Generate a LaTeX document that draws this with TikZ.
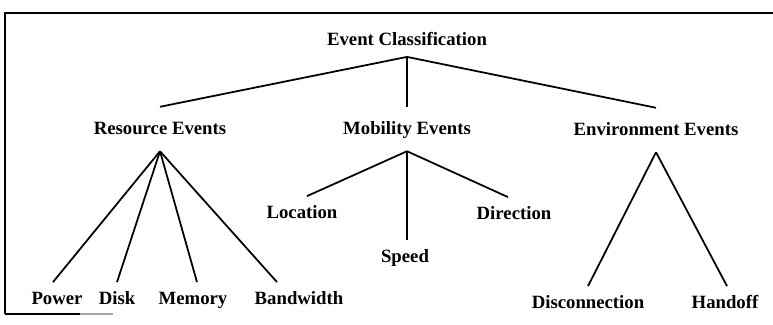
\documentclass[tikz,border=0pt]{standalone}
\usepackage{fontspec}
\setmainfont{Liberation Serif}
\usepackage{tikz}
\tikzstyle{leaf} = [font=\fontsize{16}{19}\selectfont\bfseries, inner sep=0pt,
    text height=1em, text depth=0em, minimum height=1.0cm]
\tikzstyle{group} = [leaf, minimum height=1.32cm]
\tikzstyle{branch} = [draw, line width=1.5pt]
\tikzstyle{frame} = [draw, line width=1.5pt]

\begin{document}
\begin{tikzpicture}[auto, node distance=2cm]
\useasboundingbox (0,0) rectangle (23.19,-9.72);
% Frame
	\draw [frame] (0.15,-9.42) -- (0.15,-0.39) -- (23.19,-0.39);
	\draw [frame] (0.15,-9.42) -- (2.4,-9.42);
	\draw [frame, black!35] (2.4,-9.42) -- (3.4,-9.42);
% Root
	\node [leaf] (EC) at (12.21,-1.20) {Event Classification};
% Second level
	\node [group, below of=EC, node distance=2.67cm, xshift=-7.41cm] (RE) {Resource Events};
	\node [group, below of=EC, node distance=2.67cm] (ME) {Mobility Events};
	\node [group, below of=EC, node distance=2.70cm, xshift=7.47cm] (EE) {Environment Events};
	\draw [branch] (EC.south) -- (RE.north);
	\draw [branch] (EC.south) -- (ME.north);
	\draw [branch] (EC.south) -- (EE.north);
% Resource events
	\node [leaf, below of=RE, node distance=5.10cm, xshift=-3.09cm] (PW) {Power};
	\node [leaf, below of=RE, node distance=5.10cm, xshift=-1.29cm] (DK) {Disk};
	\node [leaf, below of=RE, node distance=5.10cm, xshift=0.99cm] (MM) {Memory};
	\node [leaf, below of=RE, node distance=5.10cm, xshift=4.17cm] (BW) {Bandwidth};
	\draw [branch] (RE.south) -- ([xshift=-0.12cm]PW.north);
	\draw [branch] (RE.south) -- (DK.north);
	\draw [branch] (RE.south) -- ([xshift=0.12cm]MM.north);
	\draw [branch] (RE.south) -- ([xshift=-0.66cm]BW.north);
% Mobility events
	\node [leaf, below of=ME, node distance=2.52cm, xshift=-3.15cm] (LC) {Location};
	\node [leaf, below of=ME, node distance=3.84cm, xshift=-0.06cm] (SP) {Speed};
	\node [leaf, below of=ME, node distance=2.55cm, xshift=3.21cm] (DR) {Direction};
	\draw [branch] (ME.south) -- ([xshift=0.15cm]LC.north);
	\draw [branch] (ME.south) -- ([xshift=0.06cm]SP.north);
	\draw [branch] (ME.south) -- ([xshift=-0.18cm]DR.north);
% Environment events
	\node [leaf, below of=EE, node distance=5.19cm, xshift=-2.04cm] (DC) {Disconnection};
	\node [leaf, below of=EE, node distance=5.19cm, xshift=2.07cm] (HO) {Handoff};
	\draw [branch] (EE.south) -- (DC.north);
	\draw [branch] (EE.south) -- ([xshift=0.06cm]HO.north);
\end{tikzpicture}
\end{document}
